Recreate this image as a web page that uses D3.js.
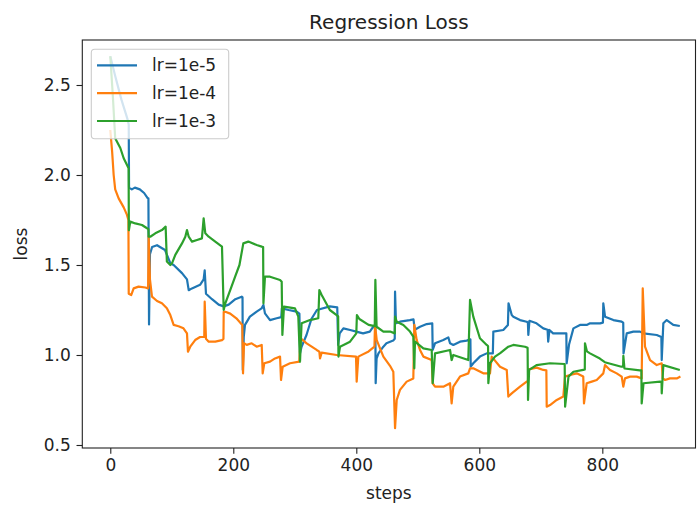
<!DOCTYPE html>
<html lang="en">
<head>
<meta charset="UTF-8">
<title>Regression Loss</title>
<script src="https://d3js.org/d3.v7.min.js"></script>
<style>
  body { margin: 0; background: #fff; }
  svg { display: block; font-family: "DejaVu Sans", sans-serif; }
  .tick text { font-size: 17px; fill: #222; }
  .tick line { stroke: #222; stroke-width: 1.1; }
  .domain { display: none; }
  .label { font-size: 17px; fill: #222; }
</style>
</head>
<body>
<svg id="chart" width="697" height="507"></svg>
<script>
// tick labels and legend names
const xTicks = [0, 200, 400, 600, 800];
const yTicks = [0.5, 1.0, 1.5, 2.0, 2.5];
const seriesNames = ["lr=1e-5", "lr=1e-4", "lr=1e-3"];

// lr=1e-5
const blueSteps = [0, 8, 18, 28, 30, 30.5, 35, 40, 48, 55, 61, 62, 63, 64.5, 68, 76, 89, 97.6, 103, 116.6,
  124.7, 127.5, 132.8, 146, 151.8, 153.5, 155.6, 165.4, 176.2, 184.4, 192.5, 203.3, 213.6, 215, 215.5, 217, 219, 227, 238, 246,
  249, 251.5, 259.7, 270.5, 278, 279, 290, 303, 307.5, 308.5, 311, 319, 327, 336, 357, 369, 370.5, 373, 379, 390,
  400, 411, 422, 427.6, 431, 431.5, 433, 436, 444, 449, 460, 462.5, 463, 464.5, 471, 487, 493, 495, 503.6, 514.5,
  523.5, 524.2, 528, 541.5, 549.6, 552.4, 557.7, 568.6, 579.5, 585.5, 586, 590.2, 601, 612, 622, 622.8, 639, 646.5, 647.5, 652.7,
  655.3, 666.2, 677, 679, 679.7, 681.5, 693, 704, 711, 712, 714, 720, 736, 741.5, 742, 746, 753, 763.7, 774.6, 780,
  796.3, 801, 801.6, 804.4, 818, 831.5, 834, 834.5, 839.7, 850.4, 861.3, 866.7, 888.5, 896, 896.6, 899.2, 904.7, 915.4, 926];
const blueLoss = [2.66, 2.55, 2.42, 2.31, 2.28, 1.93, 1.92, 1.93, 1.92, 1.90, 1.87, 1.87, 1.17, 1.56, 1.60, 1.61, 1.583, 1.51, 1.50, 1.455,
  1.42, 1.36, 1.37, 1.39, 1.42, 1.47, 1.34, 1.31, 1.28, 1.27, 1.28, 1.31, 1.324, 1.32, 0.917, 1.10, 1.167, 1.213, 1.241, 1.259,
  1.278, 1.231, 1.194, 1.204, 1.21, 1.259, 1.25, 1.241, 1.23, 1.009, 1.046, 1.111, 1.20, 1.25, 1.27, 1.265, 1.056, 1.12, 1.148, 1.139,
  1.13, 1.12, 1.13, 1.157, 1.15, 0.843, 0.98, 1.009, 1.046, 1.065, 1.08, 1.09, 1.352, 1.176, 1.185, 1.194, 1.198, 1.14, 1.157, 1.172,
  1.176, 1.028, 1.065, 1.083, 1.098, 1.065, 1.056, 1.074, 1.08, 1.087, 0.935, 0.954, 0.991, 1.009, 1.009, 1.13, 1.139, 1.167, 1.287, 1.222,
  1.213, 1.194, 1.185, 1.18, 1.111, 1.19, 1.176, 1.148, 1.14, 1.074, 1.139, 1.12, 1.12, 1.12, 0.954, 1.06, 1.148, 1.167, 1.167, 1.176,
  1.176, 1.18, 1.287, 1.213, 1.194, 1.185, 1.18, 1.009, 1.12, 1.13, 1.13, 1.12, 1.111, 1.10, 0.972, 1.176, 1.194, 1.167, 1.161];

// lr=1e-4
const orangeSteps = [0, 3, 5.5, 8, 13.6, 21.8, 27, 29.5, 30, 34, 38, 46, 57, 61.5, 62.4, 64.5, 67.8, 76, 84, 92,
  97.6, 103, 111, 119, 124.7, 126.3, 130, 138, 146, 152.8, 153.5, 155.6, 160, 170.7, 181.6, 184, 184.4, 187, 195, 205,
  214.6, 215.8, 217.4, 221.8, 229.9, 238, 246.2, 247.8, 250.4, 259.7, 267.8, 276, 277.6, 280.3, 292.2, 307.3, 309.6, 319.3, 335.6, 339.9,
  341, 343.7, 368.1, 399.5, 400.6, 403.3, 420, 429.5, 430.4, 433.2, 444, 454.8, 460.2, 463, 465.7, 471, 481.9, 492.7, 494.3, 498.2,
  503.6, 509, 522.6, 524.2, 528, 541.5, 552.4, 555, 557.7, 568.6, 582.1, 584.9, 590.2, 606.5, 617.4, 620.1, 633.7, 644.6, 647.2, 652.7,
  666.2, 677, 679, 680, 693.3, 704, 709, 709.6, 715, 725.9, 736.6, 739.3, 747.5, 758.4, 769, 770.2, 774.6, 782.8, 790.9, 801.6,
  804.4, 812.5, 823.4, 831.5, 834.1, 836.9, 845, 855.9, 864, 865.7, 869.4, 877.6, 888.5, 896.6, 898.2, 902, 910, 921, 927];
const orangeLoss = [2.25, 2.13, 2.0, 1.92, 1.87, 1.82, 1.78, 1.75, 1.34, 1.333, 1.37, 1.38, 1.375, 1.37, 1.66, 1.42, 1.324, 1.30, 1.287, 1.26,
  1.222, 1.167, 1.16, 1.148, 1.12, 1.018, 1.046, 1.083, 1.10, 1.10, 1.296, 1.09, 1.074, 1.074, 1.083, 1.09, 1.24, 1.24, 1.23, 1.204,
  1.167, 0.898, 1.065, 1.056, 1.065, 1.046, 1.056, 0.898, 0.954, 0.963, 0.981, 0.991, 0.861, 0.935, 0.954, 0.963, 1.093, 1.065, 1.028, 1.019,
  0.981, 1.013, 1.0, 0.991, 0.852, 0.991, 1.02, 1.046, 1.167, 1.083, 0.991, 0.94, 0.907, 0.593, 0.75, 0.806, 0.852, 0.87, 1.167, 1.083,
  1.028, 0.991, 0.972, 0.843, 0.824, 0.824, 0.843, 0.731, 0.824, 0.88, 0.898, 0.926, 0.926, 0.898, 0.898, 0.991, 0.935, 0.917, 0.769, 0.787,
  0.824, 0.852, 0.852, 0.92, 0.93, 0.917, 0.915, 0.713, 0.722, 0.75, 0.769, 0.88, 0.889, 0.898, 0.88, 0.731, 0.843, 0.852, 0.861, 0.898,
  0.944, 0.917, 0.898, 0.88, 0.824, 0.87, 0.88, 0.88, 0.87, 1.37, 1.046, 0.972, 0.944, 0.954, 0.87, 0.861, 0.87, 0.87, 0.88];

// lr=1e-3
const greenSteps = [0, 3.8, 8, 16.3, 21.8, 27.2, 29.8, 30.2, 32.5, 40.7, 51.5, 59.7, 62, 62.4, 65, 73.2, 84, 90, 92, 97.6,
  100.3, 105.7, 116.6, 122, 124.7, 127.5, 132.8, 141, 149, 151.8, 154.5, 160, 170.7, 181.6, 184.4, 187, 195, 203, 210, 216.3,
  224.4, 238, 246.2, 248.5, 249, 251.5, 259.7, 276, 278.7, 279.8, 282.4, 300.3, 305.7, 308.5, 311, 324.7, 338.2, 339.9, 343.7, 357,
  368, 370.5, 371, 373.5, 389.8, 400, 401, 405, 420, 430, 431, 433, 444, 455, 462.5, 463, 465.7, 476.5, 487.3, 492.7,
  494.3, 495.4, 509, 522.6, 524.2, 528, 552.4, 555, 557.7, 582.1, 584.9, 590.2, 601, 612, 614.2, 614.7, 617.4, 625.5, 634, 647.2,
  655.3, 674.3, 678.5, 679.2, 681, 693, 715, 738.8, 739.5, 745, 753, 769, 771.5, 771.8, 775, 780, 796, 804, 831, 833.8,
  834.2, 836, 861, 863.5, 864, 867, 894, 896.3, 896.6, 899.2, 926];
const greenLoss = [2.66, 2.46, 2.204, 2.15, 2.093, 2.056, 2.037, 1.693, 1.741, 1.731, 1.722, 1.704, 1.70, 1.657, 1.657, 1.676, 1.694, 1.713, 1.52, 1.50,
  1.509, 1.556, 1.62, 1.657, 1.694, 1.657, 1.63, 1.639, 1.648, 1.759, 1.676, 1.657, 1.63, 1.602, 1.25, 1.287, 1.361, 1.435, 1.50, 1.62,
  1.63, 1.611, 1.602, 1.60, 1.287, 1.435, 1.435, 1.417, 1.407, 1.111, 1.269, 1.259, 1.213, 0.963, 1.176, 1.194, 1.204, 1.361, 1.333, 1.25,
  1.222, 1.215, 0.991, 1.046, 1.074, 1.12, 1.222, 1.20, 1.167, 1.16, 1.417, 1.157, 1.13, 1.13, 1.12, 1.213, 1.185, 1.167, 1.13, 1.102,
  0.926, 1.074, 1.037, 1.028, 0.843, 1.009, 1.028, 0.972, 1.0, 0.972, 1.306, 1.213, 1.093, 1.056, 1.05, 0.843, 0.954, 0.991, 1.01, 1.046,
  1.056, 1.046, 1.04, 0.75, 0.917, 0.944, 0.954, 0.95, 0.713, 0.88, 0.907, 0.917, 0.92, 1.065, 1.02, 1.009, 0.98, 0.96, 0.935, 0.935,
  0.995, 0.925, 0.915, 0.915, 0.731, 0.843, 0.852, 0.85, 0.787, 0.944, 0.917];

const colors = ["#1f77b4", "#ff7f0e", "#2ca02c"];
const series = [
  { name: seriesNames[0], steps: blueSteps, loss: blueLoss },
  { name: seriesNames[1], steps: orangeSteps, loss: orangeLoss },
  { name: seriesNames[2], steps: greenSteps, loss: greenLoss }
];

const plot = { left: 82.3, right: 695.5, top: 40, bottom: 448 };

const x = d3.scaleLinear().domain([-45.5, 951.5]).range([plot.left, plot.right]);
const y = d3.scaleLinear().domain([0.4833, 2.75]).range([plot.bottom, plot.top]);

const svg = d3.select("#chart");

const line = d3.line()
  .x(d => x(d[0]))
  .y(d => y(d[1]));

svg.append("g")
  .selectAll("path")
  .data(series)
  .join("path")
  .attr("fill", "none")
  .attr("stroke", (d, i) => colors[i])
  .attr("stroke-width", 2.2)
  .attr("stroke-linejoin", "round")
  .attr("d", d => line(d.steps.map((s, i) => [s, d.loss[i]])));

// axes
svg.append("g")
  .attr("transform", `translate(0,${plot.bottom})`)
  .call(d3.axisBottom(x).tickValues(xTicks).tickSize(5.8).tickPadding(5.2).tickFormat(d3.format("d")))
  .call(g => g.selectAll("text").attr("font-family", "DejaVu Sans"));

svg.append("g")
  .attr("transform", `translate(${plot.left},0)`)
  .call(d3.axisLeft(y).tickValues(yTicks).tickSize(5.8).tickPadding(5.8).tickFormat(d3.format(".1f")))
  .call(g => g.selectAll("text").attr("font-family", "DejaVu Sans"));

// frame
svg.append("rect")
  .attr("x", plot.left)
  .attr("y", plot.top)
  .attr("width", plot.right - plot.left)
  .attr("height", plot.bottom - plot.top)
  .attr("fill", "none")
  .attr("stroke", "#222")
  .attr("stroke-width", 1.1);

// titles
svg.append("text")
  .attr("x", (plot.left + plot.right) / 2)
  .attr("y", 29)
  .attr("text-anchor", "middle")
  .style("font-size", "20px")
  .attr("fill", "#222")
  .text("Regression Loss");

svg.append("text")
  .attr("class", "label")
  .attr("x", (plot.left + plot.right) / 2)
  .attr("y", 499)
  .attr("text-anchor", "middle")
  .text("steps");

svg.append("text")
  .attr("class", "label")
  .attr("text-anchor", "middle")
  .attr("transform", `translate(27,${(plot.top + plot.bottom) / 2}) rotate(-90)`)
  .text("loss");

// legend
const legend = svg.append("g");
legend.append("rect")
  .attr("x", 91.3)
  .attr("y", 49.3)
  .attr("width", 137.4)
  .attr("height", 89.4)
  .attr("rx", 3.4)
  .attr("fill", "#fff")
  .attr("fill-opacity", 0.8)
  .attr("stroke", "#cccccc")
  .attr("stroke-width", 1.1);

const items = legend.selectAll(".item")
  .data(series)
  .join("g")
  .attr("class", "item")
  .attr("transform", (d, i) => `translate(0,${65.3 + i * 27.85})`);

items.append("line")
  .attr("x1", 97)
  .attr("x2", 137)
  .attr("stroke", (d, i) => colors[i])
  .attr("stroke-width", 2.2);

items.append("text")
  .attr("class", "label")
  .attr("x", 152)
  .attr("y", 6)
  .text(d => d.name);
</script>
</body>
</html>
